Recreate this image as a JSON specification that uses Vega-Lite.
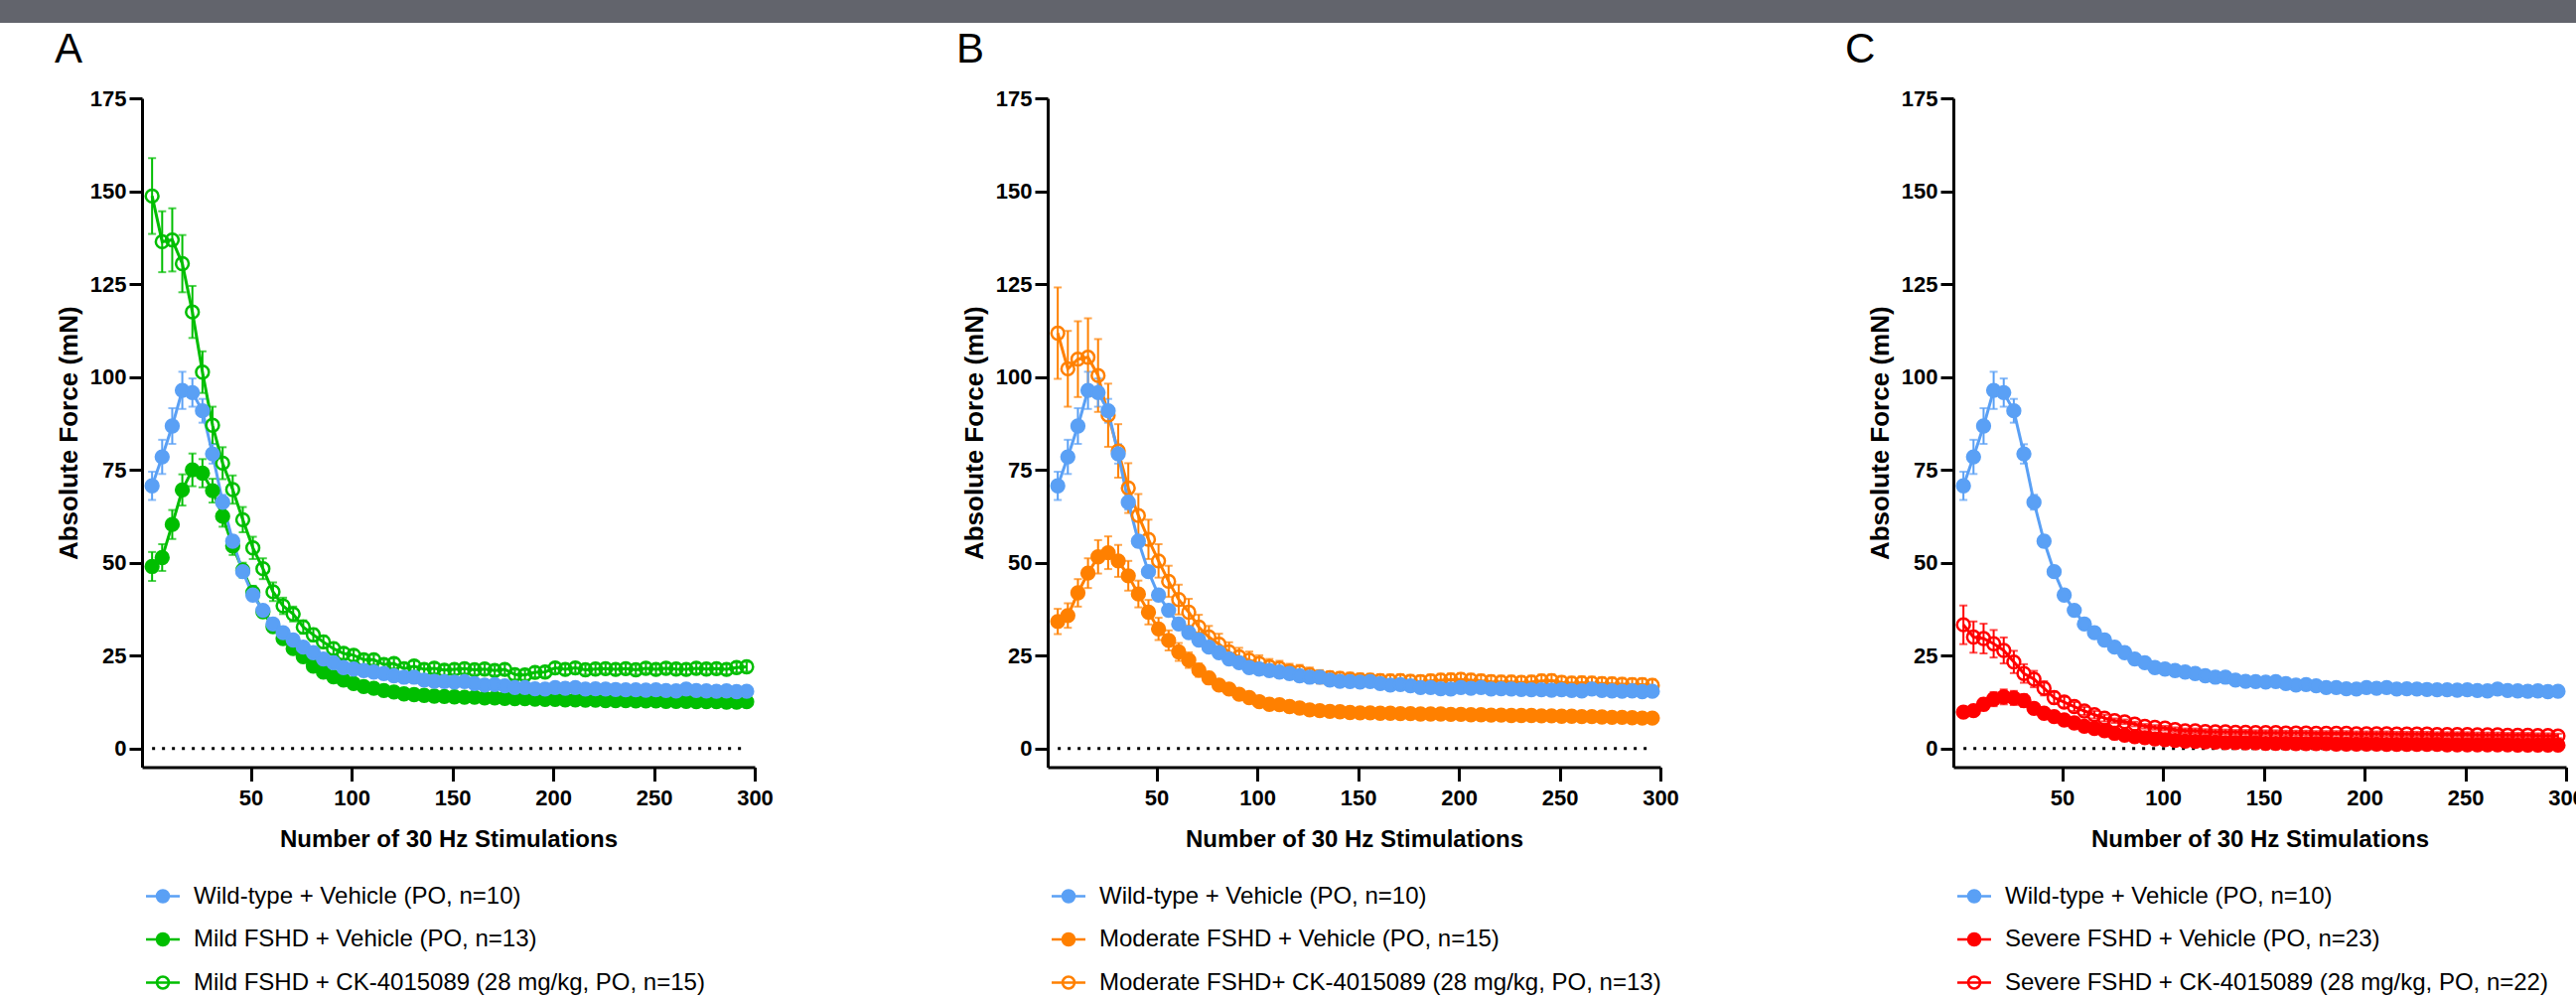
{
"$schema": "https://vega.github.io/schema/vega-lite/v6.json",
"padding": {"left": 0, "top": 0, "right": -9, "bottom": 0},
"background": "white",
"datasets": {"d": [
{"s":"mv","x":1,"y":49.0,"e":3.9},{"s":"mv","x":6,"y":51.4,"e":3.6},{"s":"mv","x":11,"y":60.3,"e":3.9},{"s":"mv","x":16,"y":69.6,"e":4.2},{"s":"mv","x":21,"y":75.0,"e":4.4},{"s":"mv","x":26,"y":74.1,"e":3.8},{"s":"mv","x":31,"y":69.4,"e":3.2},{"s":"mv","x":36,"y":62.5,"e":2.8},{"s":"mv","x":41,"y":54.5,"e":2.4},{"s":"mv","x":46,"y":48.0,"e":2.0},
{"s":"mv","x":51,"y":42.0,"e":1.8},{"s":"mv","x":56,"y":36.8,"e":1.6},{"s":"mv","x":61,"y":32.8,"e":1.4},{"s":"mv","x":66,"y":29.6,"e":1.3},{"s":"mv","x":71,"y":26.9,"e":1.2},{"s":"mv","x":76,"y":24.7,"e":1.1},{"s":"mv","x":81,"y":22.2,"e":1.0},{"s":"mv","x":86,"y":20.6,"e":1.0},{"s":"mv","x":91,"y":19.3,"e":0.9},{"s":"mv","x":96,"y":18.4,"e":0.8},
{"s":"mv","x":101,"y":17.5,"e":0.8},{"s":"mv","x":106,"y":16.7,"e":0.8},{"s":"mv","x":111,"y":16.2,"e":0.8},{"s":"mv","x":116,"y":15.6,"e":0.8},{"s":"mv","x":121,"y":15.2,"e":0.8},{"s":"mv","x":126,"y":14.7,"e":0.8},{"s":"mv","x":131,"y":14.5,"e":0.8},{"s":"mv","x":136,"y":14.3,"e":0.8},{"s":"mv","x":141,"y":14.1,"e":0.8},{"s":"mv","x":146,"y":14.0,"e":0.8},
{"s":"mv","x":151,"y":13.9,"e":0.8},{"s":"mv","x":156,"y":13.8,"e":0.8},{"s":"mv","x":161,"y":13.8,"e":0.8},{"s":"mv","x":166,"y":13.6,"e":0.8},{"s":"mv","x":171,"y":13.6,"e":0.8},{"s":"mv","x":176,"y":13.5,"e":0.8},{"s":"mv","x":181,"y":13.4,"e":0.8},{"s":"mv","x":186,"y":13.4,"e":0.8},{"s":"mv","x":191,"y":13.3,"e":0.8},{"s":"mv","x":196,"y":13.2,"e":0.8},
{"s":"mv","x":201,"y":13.2,"e":0.8},{"s":"mv","x":206,"y":13.1,"e":0.8},{"s":"mv","x":211,"y":13.1,"e":0.8},{"s":"mv","x":216,"y":13.0,"e":0.8},{"s":"mv","x":221,"y":13.0,"e":0.8},{"s":"mv","x":226,"y":12.9,"e":0.8},{"s":"mv","x":231,"y":12.9,"e":0.8},{"s":"mv","x":236,"y":12.9,"e":0.8},{"s":"mv","x":241,"y":12.8,"e":0.8},{"s":"mv","x":246,"y":12.8,"e":0.8},
{"s":"mv","x":251,"y":12.8,"e":0.8},{"s":"mv","x":256,"y":12.7,"e":0.8},{"s":"mv","x":261,"y":12.7,"e":0.8},{"s":"mv","x":266,"y":12.7,"e":0.8},{"s":"mv","x":271,"y":12.6,"e":0.8},{"s":"mv","x":276,"y":12.6,"e":0.8},{"s":"mv","x":281,"y":12.6,"e":0.8},{"s":"mv","x":286,"y":12.5,"e":0.8},{"s":"mv","x":291,"y":12.5,"e":0.8},{"s":"mv","x":296,"y":12.6,"e":0.8},
{"s":"mc","x":1,"y":148.7,"e":10.2},{"s":"mc","x":6,"y":136.4,"e":8.2},{"s":"mc","x":11,"y":136.9,"e":8.5},{"s":"mc","x":16,"y":130.5,"e":7.7},{"s":"mc","x":21,"y":117.5,"e":7.0},{"s":"mc","x":26,"y":101.3,"e":5.6},{"s":"mc","x":31,"y":87.0,"e":5.0},{"s":"mc","x":36,"y":76.8,"e":4.3},{"s":"mc","x":41,"y":69.7,"e":3.8},{"s":"mc","x":46,"y":61.6,"e":3.4},
{"s":"mc","x":51,"y":54.0,"e":3.0},{"s":"mc","x":56,"y":48.4,"e":2.8},{"s":"mc","x":61,"y":42.2,"e":2.5},{"s":"mc","x":66,"y":38.4,"e":2.2},{"s":"mc","x":71,"y":36.2,"e":2.0},{"s":"mc","x":76,"y":32.7,"e":1.8},{"s":"mc","x":81,"y":30.6,"e":1.7},{"s":"mc","x":86,"y":28.7,"e":1.6},{"s":"mc","x":91,"y":26.9,"e":1.5},{"s":"mc","x":96,"y":25.6,"e":1.4},
{"s":"mc","x":101,"y":25.1,"e":1.4},{"s":"mc","x":106,"y":23.9,"e":1.3},{"s":"mc","x":111,"y":23.9,"e":1.3},{"s":"mc","x":116,"y":22.6,"e":1.3},{"s":"mc","x":121,"y":22.9,"e":1.3},{"s":"mc","x":126,"y":21.5,"e":1.3},{"s":"mc","x":131,"y":22.2,"e":1.3},{"s":"mc","x":136,"y":21.3,"e":1.3},{"s":"mc","x":141,"y":21.6,"e":1.3},{"s":"mc","x":146,"y":21.1,"e":1.3},
{"s":"mc","x":151,"y":21.3,"e":1.3},{"s":"mc","x":156,"y":21.5,"e":1.3},{"s":"mc","x":161,"y":21.2,"e":1.3},{"s":"mc","x":166,"y":21.4,"e":1.3},{"s":"mc","x":171,"y":21.0,"e":1.3},{"s":"mc","x":176,"y":21.3,"e":1.3},{"s":"mc","x":181,"y":19.9,"e":1.3},{"s":"mc","x":186,"y":19.8,"e":1.3},{"s":"mc","x":191,"y":20.5,"e":1.3},{"s":"mc","x":196,"y":20.6,"e":1.3},
{"s":"mc","x":201,"y":21.7,"e":1.3},{"s":"mc","x":206,"y":21.3,"e":1.3},{"s":"mc","x":211,"y":21.7,"e":1.3},{"s":"mc","x":216,"y":21.2,"e":1.3},{"s":"mc","x":221,"y":21.4,"e":1.3},{"s":"mc","x":226,"y":21.5,"e":1.3},{"s":"mc","x":231,"y":21.3,"e":1.3},{"s":"mc","x":236,"y":21.5,"e":1.3},{"s":"mc","x":241,"y":21.2,"e":1.3},{"s":"mc","x":246,"y":21.6,"e":1.3},
{"s":"mc","x":251,"y":21.3,"e":1.3},{"s":"mc","x":256,"y":21.6,"e":1.3},{"s":"mc","x":261,"y":21.4,"e":1.3},{"s":"mc","x":266,"y":21.3,"e":1.3},{"s":"mc","x":271,"y":21.6,"e":1.3},{"s":"mc","x":276,"y":21.4,"e":1.3},{"s":"mc","x":281,"y":21.5,"e":1.3},{"s":"mc","x":286,"y":21.3,"e":1.3},{"s":"mc","x":291,"y":21.8,"e":1.3},{"s":"mc","x":296,"y":22.0,"e":1.3},
{"s":"ov","x":1,"y":34.2,"e":3.4},{"s":"ov","x":6,"y":35.8,"e":3.3},{"s":"ov","x":11,"y":41.9,"e":3.7},{"s":"ov","x":16,"y":47.2,"e":4.0},{"s":"ov","x":21,"y":51.6,"e":4.5},{"s":"ov","x":26,"y":52.7,"e":4.4},{"s":"ov","x":31,"y":50.5,"e":4.3},{"s":"ov","x":36,"y":46.5,"e":4.0},{"s":"ov","x":41,"y":41.6,"e":3.6},{"s":"ov","x":46,"y":36.7,"e":3.3},
{"s":"ov","x":51,"y":32.2,"e":3.0},{"s":"ov","x":56,"y":29.1,"e":2.7},{"s":"ov","x":61,"y":26.0,"e":2.4},{"s":"ov","x":66,"y":23.8,"e":2.1},{"s":"ov","x":71,"y":21.1,"e":1.8},{"s":"ov","x":76,"y":19.0,"e":1.6},{"s":"ov","x":81,"y":17.1,"e":1.4},{"s":"ov","x":86,"y":16.0,"e":1.3},{"s":"ov","x":91,"y":14.6,"e":1.2},{"s":"ov","x":96,"y":13.7,"e":1.1},
{"s":"ov","x":101,"y":12.6,"e":1.0},{"s":"ov","x":106,"y":11.9,"e":0.9},{"s":"ov","x":111,"y":11.8,"e":0.9},{"s":"ov","x":116,"y":11.3,"e":0.9},{"s":"ov","x":121,"y":10.9,"e":0.9},{"s":"ov","x":126,"y":10.4,"e":0.9},{"s":"ov","x":131,"y":10.2,"e":0.9},{"s":"ov","x":136,"y":10.0,"e":0.9},{"s":"ov","x":141,"y":9.9,"e":0.9},{"s":"ov","x":146,"y":9.7,"e":0.9},
{"s":"ov","x":151,"y":9.6,"e":0.9},{"s":"ov","x":156,"y":9.6,"e":0.9},{"s":"ov","x":161,"y":9.5,"e":0.9},{"s":"ov","x":166,"y":9.5,"e":0.9},{"s":"ov","x":171,"y":9.4,"e":0.9},{"s":"ov","x":176,"y":9.4,"e":0.9},{"s":"ov","x":181,"y":9.3,"e":0.9},{"s":"ov","x":186,"y":9.3,"e":0.9},{"s":"ov","x":191,"y":9.3,"e":0.9},{"s":"ov","x":196,"y":9.2,"e":0.9},
{"s":"ov","x":201,"y":9.2,"e":0.9},{"s":"ov","x":206,"y":9.1,"e":0.9},{"s":"ov","x":211,"y":9.1,"e":0.9},{"s":"ov","x":216,"y":9.0,"e":0.9},{"s":"ov","x":221,"y":9.0,"e":0.9},{"s":"ov","x":226,"y":8.9,"e":0.9},{"s":"ov","x":231,"y":8.9,"e":0.9},{"s":"ov","x":236,"y":8.9,"e":0.9},{"s":"ov","x":241,"y":8.8,"e":0.9},{"s":"ov","x":246,"y":8.8,"e":0.9},
{"s":"ov","x":251,"y":8.7,"e":0.9},{"s":"ov","x":256,"y":8.7,"e":0.9},{"s":"ov","x":261,"y":8.6,"e":0.9},{"s":"ov","x":266,"y":8.6,"e":0.9},{"s":"ov","x":271,"y":8.5,"e":0.9},{"s":"ov","x":276,"y":8.4,"e":0.9},{"s":"ov","x":281,"y":8.4,"e":0.9},{"s":"ov","x":286,"y":8.3,"e":0.9},{"s":"ov","x":291,"y":8.2,"e":0.9},{"s":"ov","x":296,"y":8.2,"e":0.9},
{"s":"oc","x":1,"y":111.8,"e":12.3},{"s":"oc","x":6,"y":102.2,"e":10.2},{"s":"oc","x":11,"y":104.8,"e":10.2},{"s":"oc","x":16,"y":105.3,"e":10.5},{"s":"oc","x":21,"y":100.4,"e":9.8},{"s":"oc","x":26,"y":89.7,"e":8.5},{"s":"oc","x":31,"y":80.1,"e":7.2},{"s":"oc","x":36,"y":70.1,"e":6.7},{"s":"oc","x":41,"y":62.7,"e":5.8},{"s":"oc","x":46,"y":56.3,"e":5.3},
{"s":"oc","x":51,"y":50.5,"e":4.5},{"s":"oc","x":56,"y":45.0,"e":4.2},{"s":"oc","x":61,"y":40.1,"e":4.0},{"s":"oc","x":66,"y":36.7,"e":3.6},{"s":"oc","x":71,"y":32.7,"e":3.3},{"s":"oc","x":76,"y":30.0,"e":3.0},{"s":"oc","x":81,"y":28.1,"e":2.8},{"s":"oc","x":86,"y":26.0,"e":2.6},{"s":"oc","x":91,"y":24.7,"e":2.4},{"s":"oc","x":96,"y":23.8,"e":2.3},
{"s":"oc","x":101,"y":22.9,"e":2.2},{"s":"oc","x":106,"y":22.0,"e":2.1},{"s":"oc","x":111,"y":21.6,"e":2.0},{"s":"oc","x":116,"y":20.8,"e":2.0},{"s":"oc","x":121,"y":20.6,"e":1.9},{"s":"oc","x":126,"y":19.9,"e":1.9},{"s":"oc","x":131,"y":19.3,"e":1.8},{"s":"oc","x":136,"y":19.1,"e":1.7},{"s":"oc","x":141,"y":18.9,"e":1.7},{"s":"oc","x":146,"y":18.7,"e":1.7},
{"s":"oc","x":151,"y":18.5,"e":1.7},{"s":"oc","x":156,"y":18.4,"e":1.7},{"s":"oc","x":161,"y":18.3,"e":1.7},{"s":"oc","x":166,"y":18.2,"e":1.7},{"s":"oc","x":171,"y":18.3,"e":1.7},{"s":"oc","x":176,"y":18.1,"e":1.7},{"s":"oc","x":181,"y":18.0,"e":1.7},{"s":"oc","x":186,"y":18.2,"e":1.7},{"s":"oc","x":191,"y":18.4,"e":1.7},{"s":"oc","x":196,"y":18.5,"e":1.7},
{"s":"oc","x":201,"y":18.6,"e":1.7},{"s":"oc","x":206,"y":18.4,"e":1.7},{"s":"oc","x":211,"y":18.2,"e":1.7},{"s":"oc","x":216,"y":18.0,"e":1.7},{"s":"oc","x":221,"y":17.9,"e":1.7},{"s":"oc","x":226,"y":17.9,"e":1.7},{"s":"oc","x":231,"y":17.8,"e":1.7},{"s":"oc","x":236,"y":17.9,"e":1.7},{"s":"oc","x":241,"y":18.2,"e":1.7},{"s":"oc","x":246,"y":18.3,"e":1.7},
{"s":"oc","x":251,"y":17.8,"e":1.7},{"s":"oc","x":256,"y":17.6,"e":1.7},{"s":"oc","x":261,"y":17.7,"e":1.7},{"s":"oc","x":266,"y":17.6,"e":1.7},{"s":"oc","x":271,"y":17.5,"e":1.7},{"s":"oc","x":276,"y":17.4,"e":1.7},{"s":"oc","x":281,"y":17.3,"e":1.7},{"s":"oc","x":286,"y":17.2,"e":1.7},{"s":"oc","x":291,"y":17.2,"e":1.7},{"s":"oc","x":296,"y":17.0,"e":1.7},
{"s":"sv","x":1,"y":9.8,"e":1.0},{"s":"sv","x":6,"y":10.2,"e":1.0},{"s":"sv","x":11,"y":11.9,"e":1.6},{"s":"sv","x":16,"y":13.3,"e":1.9},{"s":"sv","x":21,"y":13.9,"e":2.0},{"s":"sv","x":26,"y":13.6,"e":1.9},{"s":"sv","x":31,"y":12.9,"e":1.7},{"s":"sv","x":36,"y":10.8,"e":1.4},{"s":"sv","x":41,"y":9.5,"e":1.2},{"s":"sv","x":46,"y":8.6,"e":1.0},
{"s":"sv","x":51,"y":7.7,"e":0.9},{"s":"sv","x":56,"y":6.9,"e":0.8},{"s":"sv","x":61,"y":6.0,"e":0.7},{"s":"sv","x":66,"y":5.4,"e":0.5},{"s":"sv","x":71,"y":4.8,"e":0.5},{"s":"sv","x":76,"y":4.1,"e":0.5},{"s":"sv","x":81,"y":3.6,"e":0.5},{"s":"sv","x":86,"y":3.2,"e":0.5},{"s":"sv","x":91,"y":2.9,"e":0.5},{"s":"sv","x":96,"y":2.6,"e":0.5},
{"s":"sv","x":101,"y":2.4,"e":0.5},{"s":"sv","x":106,"y":2.2,"e":0.5},{"s":"sv","x":111,"y":2.0,"e":0.5},{"s":"sv","x":116,"y":1.9,"e":0.5},{"s":"sv","x":121,"y":1.8,"e":0.5},{"s":"sv","x":126,"y":1.7,"e":0.5},{"s":"sv","x":131,"y":1.6,"e":0.5},{"s":"sv","x":136,"y":1.6,"e":0.5},{"s":"sv","x":141,"y":1.5,"e":0.5},{"s":"sv","x":146,"y":1.5,"e":0.5},
{"s":"sv","x":151,"y":1.4,"e":0.5},{"s":"sv","x":156,"y":1.4,"e":0.5},{"s":"sv","x":161,"y":1.4,"e":0.5},{"s":"sv","x":166,"y":1.3,"e":0.5},{"s":"sv","x":171,"y":1.3,"e":0.5},{"s":"sv","x":176,"y":1.3,"e":0.5},{"s":"sv","x":181,"y":1.3,"e":0.5},{"s":"sv","x":186,"y":1.2,"e":0.5},{"s":"sv","x":191,"y":1.2,"e":0.5},{"s":"sv","x":196,"y":1.2,"e":0.5},
{"s":"sv","x":201,"y":1.2,"e":0.5},{"s":"sv","x":206,"y":1.2,"e":0.5},{"s":"sv","x":211,"y":1.1,"e":0.5},{"s":"sv","x":216,"y":1.1,"e":0.5},{"s":"sv","x":221,"y":1.1,"e":0.5},{"s":"sv","x":226,"y":1.1,"e":0.5},{"s":"sv","x":231,"y":1.1,"e":0.5},{"s":"sv","x":236,"y":1.1,"e":0.5},{"s":"sv","x":241,"y":1.0,"e":0.5},{"s":"sv","x":246,"y":1.0,"e":0.5},
{"s":"sv","x":251,"y":1.0,"e":0.5},{"s":"sv","x":256,"y":1.0,"e":0.5},{"s":"sv","x":261,"y":1.0,"e":0.5},{"s":"sv","x":266,"y":1.0,"e":0.5},{"s":"sv","x":271,"y":1.0,"e":0.5},{"s":"sv","x":276,"y":0.9,"e":0.5},{"s":"sv","x":281,"y":0.9,"e":0.5},{"s":"sv","x":286,"y":0.9,"e":0.5},{"s":"sv","x":291,"y":0.9,"e":0.5},{"s":"sv","x":296,"y":0.9,"e":0.5},
{"s":"sc","x":1,"y":33.3,"e":5.2},{"s":"sc","x":6,"y":30.0,"e":4.2},{"s":"sc","x":11,"y":29.6,"e":4.0},{"s":"sc","x":16,"y":28.2,"e":3.7},{"s":"sc","x":21,"y":26.4,"e":3.5},{"s":"sc","x":26,"y":23.3,"e":3.0},{"s":"sc","x":31,"y":20.2,"e":2.5},{"s":"sc","x":36,"y":18.7,"e":2.2},{"s":"sc","x":41,"y":16.2,"e":1.9},{"s":"sc","x":46,"y":13.7,"e":1.6},
{"s":"sc","x":51,"y":12.5,"e":1.4},{"s":"sc","x":56,"y":11.3,"e":1.2},{"s":"sc","x":61,"y":10.1,"e":1.1},{"s":"sc","x":66,"y":9.1,"e":1.0},{"s":"sc","x":71,"y":8.2,"e":0.9},{"s":"sc","x":76,"y":7.5,"e":0.6},{"s":"sc","x":81,"y":7.2,"e":0.6},{"s":"sc","x":86,"y":6.6,"e":0.6},{"s":"sc","x":91,"y":6.0,"e":0.6},{"s":"sc","x":96,"y":5.7,"e":0.6},
{"s":"sc","x":101,"y":5.5,"e":0.6},{"s":"sc","x":106,"y":5.1,"e":0.6},{"s":"sc","x":111,"y":4.8,"e":0.6},{"s":"sc","x":116,"y":4.8,"e":0.6},{"s":"sc","x":121,"y":4.6,"e":0.6},{"s":"sc","x":126,"y":4.5,"e":0.6},{"s":"sc","x":131,"y":4.5,"e":0.6},{"s":"sc","x":136,"y":4.4,"e":0.6},{"s":"sc","x":141,"y":4.4,"e":0.6},{"s":"sc","x":146,"y":4.3,"e":0.6},
{"s":"sc","x":151,"y":4.3,"e":0.6},{"s":"sc","x":156,"y":4.3,"e":0.6},{"s":"sc","x":161,"y":4.2,"e":0.6},{"s":"sc","x":166,"y":4.2,"e":0.6},{"s":"sc","x":171,"y":4.2,"e":0.6},{"s":"sc","x":176,"y":4.1,"e":0.6},{"s":"sc","x":181,"y":4.1,"e":0.6},{"s":"sc","x":186,"y":4.1,"e":0.6},{"s":"sc","x":191,"y":4.1,"e":0.6},{"s":"sc","x":196,"y":4.0,"e":0.6},
{"s":"sc","x":201,"y":4.0,"e":0.6},{"s":"sc","x":206,"y":4.0,"e":0.6},{"s":"sc","x":211,"y":4.0,"e":0.6},{"s":"sc","x":216,"y":3.9,"e":0.6},{"s":"sc","x":221,"y":3.9,"e":0.6},{"s":"sc","x":226,"y":3.9,"e":0.6},{"s":"sc","x":231,"y":3.9,"e":0.6},{"s":"sc","x":236,"y":3.8,"e":0.6},{"s":"sc","x":241,"y":3.8,"e":0.6},{"s":"sc","x":246,"y":3.8,"e":0.6},
{"s":"sc","x":251,"y":3.8,"e":0.6},{"s":"sc","x":256,"y":3.7,"e":0.6},{"s":"sc","x":261,"y":3.7,"e":0.6},{"s":"sc","x":266,"y":3.7,"e":0.6},{"s":"sc","x":271,"y":3.6,"e":0.6},{"s":"sc","x":276,"y":3.6,"e":0.6},{"s":"sc","x":281,"y":3.6,"e":0.6},{"s":"sc","x":286,"y":3.5,"e":0.6},{"s":"sc","x":291,"y":3.5,"e":0.6},{"s":"sc","x":296,"y":3.4,"e":0.6},
{"s":"wt","x":1,"y":70.7,"e":3.8},{"s":"wt","x":6,"y":78.5,"e":4.6},{"s":"wt","x":11,"y":86.8,"e":4.8},{"s":"wt","x":16,"y":96.4,"e":5.0},{"s":"wt","x":21,"y":95.8,"e":3.8},{"s":"wt","x":26,"y":90.9,"e":3.2},{"s":"wt","x":31,"y":79.3,"e":2.6},{"s":"wt","x":36,"y":66.3,"e":2.0},{"s":"wt","x":41,"y":55.8,"e":1.6},{"s":"wt","x":46,"y":47.6,"e":1.4},
{"s":"wt","x":51,"y":41.3,"e":1.2},{"s":"wt","x":56,"y":37.2,"e":1.1},{"s":"wt","x":61,"y":33.5,"e":1.0},{"s":"wt","x":66,"y":31.2,"e":1.0},{"s":"wt","x":71,"y":29.2,"e":0.9},{"s":"wt","x":76,"y":27.3,"e":0.9},{"s":"wt","x":81,"y":25.8,"e":0.9},{"s":"wt","x":86,"y":24.1,"e":0.8},{"s":"wt","x":91,"y":23.1,"e":0.8},{"s":"wt","x":96,"y":21.8,"e":0.8},
{"s":"wt","x":101,"y":21.4,"e":0.8},{"s":"wt","x":106,"y":21.0,"e":0.7},{"s":"wt","x":111,"y":20.6,"e":0.7},{"s":"wt","x":116,"y":20.2,"e":0.7},{"s":"wt","x":121,"y":19.6,"e":0.7},{"s":"wt","x":126,"y":19.2,"e":0.7},{"s":"wt","x":131,"y":19.2,"e":0.7},{"s":"wt","x":136,"y":18.4,"e":0.7},{"s":"wt","x":141,"y":18.1,"e":0.7},{"s":"wt","x":146,"y":18.0,"e":0.7},
{"s":"wt","x":151,"y":17.9,"e":0.7},{"s":"wt","x":156,"y":18.0,"e":0.7},{"s":"wt","x":161,"y":17.5,"e":0.7},{"s":"wt","x":166,"y":17.1,"e":0.7},{"s":"wt","x":171,"y":17.2,"e":0.7},{"s":"wt","x":176,"y":16.9,"e":0.7},{"s":"wt","x":181,"y":16.4,"e":0.7},{"s":"wt","x":186,"y":16.4,"e":0.7},{"s":"wt","x":191,"y":16.1,"e":0.7},{"s":"wt","x":196,"y":16.0,"e":0.7},
{"s":"wt","x":201,"y":16.4,"e":0.7},{"s":"wt","x":206,"y":16.2,"e":0.7},{"s":"wt","x":211,"y":16.4,"e":0.7},{"s":"wt","x":216,"y":16.0,"e":0.7},{"s":"wt","x":221,"y":16.1,"e":0.7},{"s":"wt","x":226,"y":16.0,"e":0.7},{"s":"wt","x":231,"y":15.9,"e":0.7},{"s":"wt","x":236,"y":15.8,"e":0.7},{"s":"wt","x":241,"y":15.8,"e":0.7},{"s":"wt","x":246,"y":15.7,"e":0.7},
{"s":"wt","x":251,"y":15.8,"e":0.7},{"s":"wt","x":256,"y":15.6,"e":0.7},{"s":"wt","x":261,"y":15.5,"e":0.7},{"s":"wt","x":266,"y":16.0,"e":0.7},{"s":"wt","x":271,"y":15.6,"e":0.7},{"s":"wt","x":276,"y":15.5,"e":0.7},{"s":"wt","x":281,"y":15.4,"e":0.7},{"s":"wt","x":286,"y":15.5,"e":0.7},{"s":"wt","x":291,"y":15.3,"e":0.7},{"s":"wt","x":296,"y":15.4,"e":0.7}
]},
"spacing": 6,
"vconcat": [
{"width": 2594, "height": 23, "view": {"fill": "#62646c", "stroke": null},
 "data": {"values": [{"a": 0}]}, "mark": {"type": "point", "opacity": 0, "size": 0}, "encoding": {}},
{"hconcat": [
 {"width": 1, "height": 1, "data": {"values": [{"a": 0}]}, "mark": {"type": "point", "opacity": 0, "size": 0}, "encoding": {}},
 {"hconcat": [
 {"width": 617, "height": 673.5, "title": {"text": "A", "dx": -88},
  "layer": [
   {"data": {"values": [{"x": 1, "x2": 296, "y": 0}]},
    "mark": {"type": "rule", "strokeDash": [3, 7], "strokeWidth": 3, "color": "black"},
    "encoding": {
     "x": {"field": "x", "type": "quantitative", "scale": {"domain": [-4, 300], "nice": false, "zero": false}, "axis": {"values": [50,100,150,200,250,300], "title": "Number of 30 Hz Stimulations", "labelFlush": false}},
     "x2": {"field": "x2"},
     "y": {"field": "y", "type": "quantitative", "scale": {"domain": [-5, 175], "nice": false, "zero": false}, "axis": {"values": [0,25,50,75,100,125,150,175], "title": "Absolute Force (mN)"}}}},
   {"data": {"name": "d"}, "transform": [{"filter": {"field": "s", "oneOf": ["wt", "mv", "mc"]}}],
    "mark": {"type": "errorbar", "ticks": {"size": 8, "thickness": 2}, "thickness": 2},
    "encoding": {
     "x": {"field": "x", "type": "quantitative", "scale": {"domain": [-4, 300], "nice": false, "zero": false}, "axis": {"values": [50,100,150,200,250,300], "title": "Number of 30 Hz Stimulations", "labelFlush": false}},
     "y": {"field": "y", "type": "quantitative", "scale": {"domain": [-5, 175], "nice": false, "zero": false}, "axis": {"values": [0,25,50,75,100,125,150,175], "title": "Absolute Force (mN)"}},
     "yError": {"field": "e"},
     "color": {"field": "s", "type": "nominal", "scale": {"domain": ["wt", "mv", "mc", "zz"], "range": ["#5AA0F5", "#00BE00", "#00BE00", "#000000"]}, "legend": null}}},
   {"data": {"name": "d"}, "transform": [{"filter": {"field": "s", "oneOf": ["wt", "mv", "mc"]}}],
    "mark": {"type": "line", "strokeWidth": 3},
    "encoding": {
     "x": {"field": "x", "type": "quantitative", "scale": {"domain": [-4, 300], "nice": false, "zero": false}, "axis": {"values": [50,100,150,200,250,300], "title": "Number of 30 Hz Stimulations", "labelFlush": false}},
     "y": {"field": "y", "type": "quantitative", "scale": {"domain": [-5, 175], "nice": false, "zero": false}, "axis": {"values": [0,25,50,75,100,125,150,175], "title": "Absolute Force (mN)"}},
     "stroke": {"field": "s", "type": "nominal", "scale": {"domain": ["wt", "mv", "mc"], "range": ["#5AA0F5", "#00BE00", "#00BE00"]},
       "legend": {"title": null, "orient": "none", "legendX": 9, "legendY": 791.5, "symbolType": "M-2.83,0H2.83M-1,0A1,1,0,1,1,1,0A1,1,0,1,1,-1,0Z", "labelExpr": "datum.label == 'wt' ? 'Wild-type + Vehicle (PO, n=10)' : datum.label == 'mv' ? 'Mild FSHD + Vehicle (PO, n=13)' : 'Mild FSHD + CK-4015089 (28 mg/kg, PO, n=15)'"}}}},
   {"data": {"name": "d"}, "transform": [{"filter": {"field": "s", "oneOf": ["wt", "mv", "mc"]}}],
    "mark": {"type": "point", "shape": "circle", "filled": true, "size": 165, "strokeWidth": 2.5, "opacity": 1},
    "encoding": {
     "x": {"field": "x", "type": "quantitative", "scale": {"domain": [-4, 300], "nice": false, "zero": false}, "axis": {"values": [50,100,150,200,250,300], "title": "Number of 30 Hz Stimulations", "labelFlush": false}},
     "y": {"field": "y", "type": "quantitative", "scale": {"domain": [-5, 175], "nice": false, "zero": false}, "axis": {"values": [0,25,50,75,100,125,150,175], "title": "Absolute Force (mN)"}},
     "fill": {"field": "s", "type": "nominal", "scale": {"domain": ["wt", "mv", "mc"], "range": ["#5AA0F5", "#00BE00", "transparent"]},
       "legend": {"title": null, "orient": "none", "legendX": 9, "legendY": 791.5, "symbolType": "M-2.83,0H2.83M-1,0A1,1,0,1,1,1,0A1,1,0,1,1,-1,0Z", "labelExpr": "datum.label == 'wt' ? 'Wild-type + Vehicle (PO, n=10)' : datum.label == 'mv' ? 'Mild FSHD + Vehicle (PO, n=13)' : 'Mild FSHD + CK-4015089 (28 mg/kg, PO, n=15)'"}},
     "stroke": {"field": "s", "type": "nominal", "scale": {"domain": ["wt", "mv", "mc"], "range": ["#5AA0F5", "#00BE00", "#00BE00"]},
       "legend": {"title": null, "orient": "none", "legendX": 9, "legendY": 791.5, "symbolType": "M-2.83,0H2.83M-1,0A1,1,0,1,1,1,0A1,1,0,1,1,-1,0Z", "labelExpr": "datum.label == 'wt' ? 'Wild-type + Vehicle (PO, n=10)' : datum.label == 'mv' ? 'Mild FSHD + Vehicle (PO, n=13)' : 'Mild FSHD + CK-4015089 (28 mg/kg, PO, n=15)'"}}}}
  ]
 },
 {"width": 617, "height": 673.5, "title": {"text": "B", "dx": -92},
  "layer": [
   {"data": {"values": [{"x": 1, "x2": 296, "y": 0}]},
    "mark": {"type": "rule", "strokeDash": [3, 7], "strokeWidth": 3, "color": "black"},
    "encoding": {
     "x": {"field": "x", "type": "quantitative", "scale": {"domain": [-4, 300], "nice": false, "zero": false}, "axis": {"values": [50,100,150,200,250,300], "title": "Number of 30 Hz Stimulations", "labelFlush": false}},
     "x2": {"field": "x2"},
     "y": {"field": "y", "type": "quantitative", "scale": {"domain": [-5, 175], "nice": false, "zero": false}, "axis": {"values": [0,25,50,75,100,125,150,175], "title": "Absolute Force (mN)"}}}},
   {"data": {"name": "d"}, "transform": [{"filter": {"field": "s", "oneOf": ["wt", "ov", "oc"]}}],
    "mark": {"type": "errorbar", "ticks": {"size": 8, "thickness": 2}, "thickness": 2},
    "encoding": {
     "x": {"field": "x", "type": "quantitative", "scale": {"domain": [-4, 300], "nice": false, "zero": false}, "axis": {"values": [50,100,150,200,250,300], "title": "Number of 30 Hz Stimulations", "labelFlush": false}},
     "y": {"field": "y", "type": "quantitative", "scale": {"domain": [-5, 175], "nice": false, "zero": false}, "axis": {"values": [0,25,50,75,100,125,150,175], "title": "Absolute Force (mN)"}},
     "yError": {"field": "e"},
     "color": {"field": "s", "type": "nominal", "scale": {"domain": ["wt", "ov", "oc", "zz"], "range": ["#5AA0F5", "#FF8000", "#FF8000", "#000000"]}, "legend": null}}},
   {"data": {"name": "d"}, "transform": [{"filter": {"field": "s", "oneOf": ["wt", "ov", "oc"]}}],
    "mark": {"type": "line", "strokeWidth": 3},
    "encoding": {
     "x": {"field": "x", "type": "quantitative", "scale": {"domain": [-4, 300], "nice": false, "zero": false}, "axis": {"values": [50,100,150,200,250,300], "title": "Number of 30 Hz Stimulations", "labelFlush": false}},
     "y": {"field": "y", "type": "quantitative", "scale": {"domain": [-5, 175], "nice": false, "zero": false}, "axis": {"values": [0,25,50,75,100,125,150,175], "title": "Absolute Force (mN)"}},
     "stroke": {"field": "s", "type": "nominal", "scale": {"domain": ["wt", "ov", "oc"], "range": ["#5AA0F5", "#FF8000", "#FF8000"]},
       "legend": {"title": null, "orient": "none", "legendX": 9, "legendY": 791.5, "symbolType": "M-2.83,0H2.83M-1,0A1,1,0,1,1,1,0A1,1,0,1,1,-1,0Z", "labelExpr": "datum.label == 'wt' ? 'Wild-type + Vehicle (PO, n=10)' : datum.label == 'ov' ? 'Moderate FSHD + Vehicle (PO, n=15)' : 'Moderate FSHD+ CK-4015089 (28 mg/kg, PO, n=13)'"}}}},
   {"data": {"name": "d"}, "transform": [{"filter": {"field": "s", "oneOf": ["wt", "ov", "oc"]}}],
    "mark": {"type": "point", "shape": "circle", "filled": true, "size": 165, "strokeWidth": 2.5, "opacity": 1},
    "encoding": {
     "x": {"field": "x", "type": "quantitative", "scale": {"domain": [-4, 300], "nice": false, "zero": false}, "axis": {"values": [50,100,150,200,250,300], "title": "Number of 30 Hz Stimulations", "labelFlush": false}},
     "y": {"field": "y", "type": "quantitative", "scale": {"domain": [-5, 175], "nice": false, "zero": false}, "axis": {"values": [0,25,50,75,100,125,150,175], "title": "Absolute Force (mN)"}},
     "fill": {"field": "s", "type": "nominal", "scale": {"domain": ["wt", "ov", "oc"], "range": ["#5AA0F5", "#FF8000", "transparent"]},
       "legend": {"title": null, "orient": "none", "legendX": 9, "legendY": 791.5, "symbolType": "M-2.83,0H2.83M-1,0A1,1,0,1,1,1,0A1,1,0,1,1,-1,0Z", "labelExpr": "datum.label == 'wt' ? 'Wild-type + Vehicle (PO, n=10)' : datum.label == 'ov' ? 'Moderate FSHD + Vehicle (PO, n=15)' : 'Moderate FSHD+ CK-4015089 (28 mg/kg, PO, n=13)'"}},
     "stroke": {"field": "s", "type": "nominal", "scale": {"domain": ["wt", "ov", "oc"], "range": ["#5AA0F5", "#FF8000", "#FF8000"]},
       "legend": {"title": null, "orient": "none", "legendX": 9, "legendY": 791.5, "symbolType": "M-2.83,0H2.83M-1,0A1,1,0,1,1,1,0A1,1,0,1,1,-1,0Z", "labelExpr": "datum.label == 'wt' ? 'Wild-type + Vehicle (PO, n=10)' : datum.label == 'ov' ? 'Moderate FSHD + Vehicle (PO, n=15)' : 'Moderate FSHD+ CK-4015089 (28 mg/kg, PO, n=13)'"}}}}
  ]
 },
 {"width": 617, "height": 673.5, "title": {"text": "C", "dx": -109},
  "layer": [
   {"data": {"values": [{"x": 1, "x2": 296, "y": 0}]},
    "mark": {"type": "rule", "strokeDash": [3, 7], "strokeWidth": 3, "color": "black"},
    "encoding": {
     "x": {"field": "x", "type": "quantitative", "scale": {"domain": [-4, 300], "nice": false, "zero": false}, "axis": {"values": [50,100,150,200,250,300], "title": "Number of 30 Hz Stimulations", "labelFlush": false}},
     "x2": {"field": "x2"},
     "y": {"field": "y", "type": "quantitative", "scale": {"domain": [-5, 175], "nice": false, "zero": false}, "axis": {"values": [0,25,50,75,100,125,150,175], "title": "Absolute Force (mN)"}}}},
   {"data": {"name": "d"}, "transform": [{"filter": {"field": "s", "oneOf": ["wt", "sv", "sc"]}}],
    "mark": {"type": "errorbar", "ticks": {"size": 8, "thickness": 2}, "thickness": 2},
    "encoding": {
     "x": {"field": "x", "type": "quantitative", "scale": {"domain": [-4, 300], "nice": false, "zero": false}, "axis": {"values": [50,100,150,200,250,300], "title": "Number of 30 Hz Stimulations", "labelFlush": false}},
     "y": {"field": "y", "type": "quantitative", "scale": {"domain": [-5, 175], "nice": false, "zero": false}, "axis": {"values": [0,25,50,75,100,125,150,175], "title": "Absolute Force (mN)"}},
     "yError": {"field": "e"},
     "color": {"field": "s", "type": "nominal", "scale": {"domain": ["wt", "sv", "sc", "zz"], "range": ["#5AA0F5", "#FF0000", "#FF0000", "#000000"]}, "legend": null}}},
   {"data": {"name": "d"}, "transform": [{"filter": {"field": "s", "oneOf": ["wt", "sv", "sc"]}}],
    "mark": {"type": "line", "strokeWidth": 3},
    "encoding": {
     "x": {"field": "x", "type": "quantitative", "scale": {"domain": [-4, 300], "nice": false, "zero": false}, "axis": {"values": [50,100,150,200,250,300], "title": "Number of 30 Hz Stimulations", "labelFlush": false}},
     "y": {"field": "y", "type": "quantitative", "scale": {"domain": [-5, 175], "nice": false, "zero": false}, "axis": {"values": [0,25,50,75,100,125,150,175], "title": "Absolute Force (mN)"}},
     "stroke": {"field": "s", "type": "nominal", "scale": {"domain": ["wt", "sv", "sc"], "range": ["#5AA0F5", "#FF0000", "#FF0000"]},
       "legend": {"title": null, "orient": "none", "legendX": 9, "legendY": 791.5, "symbolType": "M-2.83,0H2.83M-1,0A1,1,0,1,1,1,0A1,1,0,1,1,-1,0Z", "labelExpr": "datum.label == 'wt' ? 'Wild-type + Vehicle (PO, n=10)' : datum.label == 'sv' ? 'Severe FSHD + Vehicle (PO, n=23)' : 'Severe FSHD + CK-4015089 (28 mg/kg, PO, n=22)'"}}}},
   {"data": {"name": "d"}, "transform": [{"filter": {"field": "s", "oneOf": ["wt", "sv", "sc"]}}],
    "mark": {"type": "point", "shape": "circle", "filled": true, "size": 165, "strokeWidth": 2.5, "opacity": 1},
    "encoding": {
     "x": {"field": "x", "type": "quantitative", "scale": {"domain": [-4, 300], "nice": false, "zero": false}, "axis": {"values": [50,100,150,200,250,300], "title": "Number of 30 Hz Stimulations", "labelFlush": false}},
     "y": {"field": "y", "type": "quantitative", "scale": {"domain": [-5, 175], "nice": false, "zero": false}, "axis": {"values": [0,25,50,75,100,125,150,175], "title": "Absolute Force (mN)"}},
     "fill": {"field": "s", "type": "nominal", "scale": {"domain": ["wt", "sv", "sc"], "range": ["#5AA0F5", "#FF0000", "transparent"]},
       "legend": {"title": null, "orient": "none", "legendX": 9, "legendY": 791.5, "symbolType": "M-2.83,0H2.83M-1,0A1,1,0,1,1,1,0A1,1,0,1,1,-1,0Z", "labelExpr": "datum.label == 'wt' ? 'Wild-type + Vehicle (PO, n=10)' : datum.label == 'sv' ? 'Severe FSHD + Vehicle (PO, n=23)' : 'Severe FSHD + CK-4015089 (28 mg/kg, PO, n=22)'"}},
     "stroke": {"field": "s", "type": "nominal", "scale": {"domain": ["wt", "sv", "sc"], "range": ["#5AA0F5", "#FF0000", "#FF0000"]},
       "legend": {"title": null, "orient": "none", "legendX": 9, "legendY": 791.5, "symbolType": "M-2.83,0H2.83M-1,0A1,1,0,1,1,1,0A1,1,0,1,1,-1,0Z", "labelExpr": "datum.label == 'wt' ? 'Wild-type + Vehicle (PO, n=10)' : datum.label == 'sv' ? 'Severe FSHD + Vehicle (PO, n=23)' : 'Severe FSHD + CK-4015089 (28 mg/kg, PO, n=22)'"}}}}
  ]
 }
 ],
 "spacing": 295,
 "bounds": "flush",
 "resolve": {"scale": {"fill": "independent", "stroke": "independent", "color": "independent"}, "legend": {"fill": "independent", "stroke": "independent"}}
 }
 ],
 "spacing": 142,
 "bounds": "flush"
}
],
"config": {
 "view": {"stroke": null},
 "font": "Liberation Sans",
 "axis": {"domainColor": "black", "domainWidth": 3, "tickColor": "black", "tickWidth": 3, "tickSize": 14, "labelFont": "Liberation Sans", "labelFontWeight": "bold", "labelFontSize": 22, "labelColor": "black", "titleFont": "Liberation Sans", "titleFontWeight": "bold", "titleColor": "black", "grid": false},
 "axisX": {"labelPadding": 7, "titlePadding": 19, "titleFontSize": 24},
 "axisY": {"labelPadding": 3, "titlePadding": 8, "titleFontSize": 26, "tickSize": 13},
 "legend": {"symbolSize": 144, "symbolStrokeWidth": 2.5, "labelFont": "Liberation Sans", "labelFontSize": 24, "labelColor": "black", "rowPadding": 19.5, "labelOffset": 19, "padding": 0, "labelLimit": 1000, "direction": "vertical"},
 "title": {"font": "Liberation Sans", "fontSize": 42, "fontWeight": "normal", "anchor": "start", "frame": "group", "color": "black", "baseline": "alphabetic", "offset": 16}
}
}
